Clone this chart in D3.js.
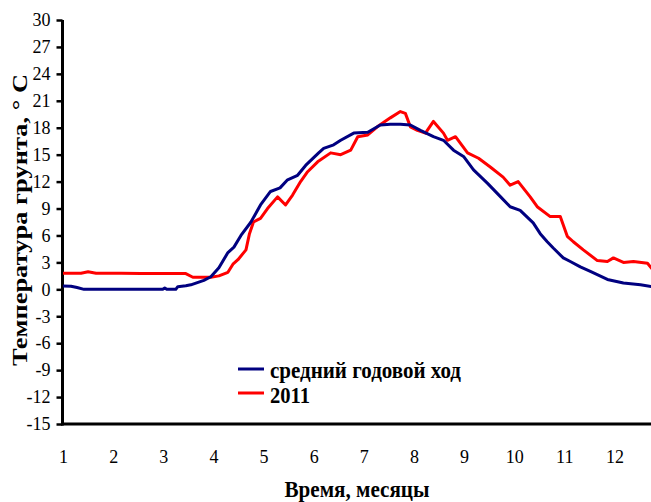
<!DOCTYPE html>
<html>
<head>
<meta charset="utf-8">
<script src="https://cdn.jsdelivr.net/npm/d3@7"></script>
<style>
  html, body { margin: 0; padding: 0; background: #fff; }
  svg { display: block; }
  text { font-family: "Liberation Serif", "Times New Roman", serif; }
</style>
</head>
<body>
<svg id="chart" width="651" height="502"></svg>
<script>
// ---- data ----
const yTicks = [-15, -12, -9, -6, -3, 0, 3, 6, 9, 12, 15, 18, 21, 24, 27, 30];
const xTicks = [1, 2, 3, 4, 5, 6, 7, 8, 9, 10, 11, 12];

const monthsAvg = [1.00, 1.16, 1.28, 1.42, 2.99, 3.03, 3.07, 3.25, 3.29, 3.45, 3.55, 3.81, 3.95, 4.11, 4.29, 4.41, 4.55, 4.75, 4.94, 5.14, 5.33, 5.48, 5.68, 5.84, 6.10, 6.20, 6.40, 6.54, 6.80, 7.08, 7.33, 7.53, 7.73, 7.93, 8.13, 8.39, 8.59, 8.79, 8.99, 9.19, 9.47, 9.73, 9.92, 10.12, 10.38, 10.52, 10.66, 10.78, 10.98, 11.12, 11.32, 11.52, 11.86, 12.18, 12.52, 12.75];
const tempAvg   = [0.37, 0.35, 0.20, 0.00, 0.00, 0.15, 0.00, 0.00, 0.30, 0.40, 0.50, 1.00, 1.40, 2.40, 4.10, 4.70, 6.00, 7.50, 9.40, 10.90, 11.30, 12.20, 12.70, 13.80, 15.20, 15.70, 16.10, 16.60, 17.40, 17.50, 18.30, 18.40, 18.40, 18.30, 17.70, 17.00, 16.60, 15.50, 14.80, 13.30, 11.80, 10.30, 9.20, 8.80, 7.40, 6.20, 5.30, 4.60, 3.50, 3.10, 2.50, 2.00, 1.10, 0.70, 0.50, 0.30];

const months2011 = [1.00, 1.36, 1.50, 1.66, 2.16, 2.55, 2.95, 3.45, 3.59, 3.95, 4.11, 4.29, 4.39, 4.49, 4.65, 4.72, 4.80, 4.94, 5.08, 5.28, 5.44, 5.58, 5.74, 5.88, 6.08, 6.34, 6.54, 6.74, 6.88, 7.08, 7.27, 7.53, 7.73, 7.83, 7.93, 8.07, 8.23, 8.39, 8.59, 8.67, 8.83, 9.07, 9.29, 9.53, 9.78, 9.92, 10.08, 10.32, 10.46, 10.72, 10.92, 11.06, 11.18, 11.38, 11.66, 11.86, 11.98, 12.18, 12.38, 12.66, 12.75];
const temp2011   = [1.80, 1.80, 1.95, 1.80, 1.80, 1.75, 1.75, 1.75, 1.35, 1.35, 1.50, 1.90, 2.80, 3.30, 4.40, 6.20, 7.50, 7.90, 9.00, 10.30, 9.40, 10.50, 12.00, 13.10, 14.20, 15.20, 15.00, 15.50, 17.00, 17.20, 18.10, 19.10, 19.80, 19.60, 18.10, 17.70, 17.40, 18.70, 17.40, 16.60, 17.00, 15.20, 14.60, 13.60, 12.50, 11.60, 12.00, 10.30, 9.20, 8.10, 8.10, 5.90, 5.30, 4.40, 3.20, 3.10, 3.50, 3.00, 3.10, 2.90, 2.30];

const seriesNames = ["средний годовой ход", "2011"];
const seriesColors = ["#000080", "#ff0000"];
const yTitle = "Температура грунта, ° C";
const xTitle = "Время, месяцы";

// ---- chart ----
const svg = d3.select("#chart");
const x = d3.scaleLinear().domain([1, 12.75]).range([63, 652]);
const y = d3.scaleLinear().domain([-15, 30]).range([424, 20]);

// y axis
const yAxis = svg.append("g").attr("transform", "translate(62.5,0)")
  .call(d3.axisLeft(y).tickValues(yTicks).tickSize(6).tickPadding(6).tickFormat(d3.format("d")));
yAxis.select(".domain").attr("stroke", "#000").attr("stroke-width", 3).attr("d", `M0,${y(30)}V${y(-15) + 1.5}`);
yAxis.selectAll(".tick line").attr("stroke", "#000").attr("stroke-width", 2.5);
yAxis.selectAll(".tick text").attr("font-size", 18).attr("fill", "#000")
  .attr("font-family", "Liberation Serif").text(d => d < 0 ? "-" + Math.abs(d) : d);

// x axis
const xAxis = svg.append("g").attr("transform", `translate(0,${y(-15)})`)
  .call(d3.axisBottom(x).tickValues(xTicks).tickSize(0).tickPadding(26).tickFormat(d3.format("d")));
xAxis.select(".domain").attr("stroke", "#000").attr("stroke-width", 3).attr("d", `M61,0H651`);
xAxis.selectAll(".tick text").attr("font-size", 18).attr("fill", "#000").attr("font-family", "Liberation Serif");

// lines
const line = d3.line().x(d => x(d[0])).y(d => y(d[1]));
const data = [
  d3.zip(monthsAvg, tempAvg),
  d3.zip(months2011, temp2011)
];
svg.append("path").datum(data[1]).attr("d", line).attr("fill", "none")
  .attr("stroke", seriesColors[1]).attr("stroke-width", 3).attr("stroke-linejoin", "round");
svg.append("path").datum(data[0]).attr("d", line).attr("fill", "none")
  .attr("stroke", seriesColors[0]).attr("stroke-width", 3).attr("stroke-linejoin", "round");

// legend
const legendY = [369, 393];
const legendW = [191, 40];
seriesNames.forEach((name, i) => {
  svg.append("line").attr("x1", 238).attr("x2", 264).attr("y1", legendY[i]).attr("y2", legendY[i])
    .attr("stroke", seriesColors[i]).attr("stroke-width", 3);
  svg.append("text").attr("x", 270).attr("y", legendY[i] + 9 + (i === 1 ? 1 : 0))
    .attr("font-size", 23).attr("font-weight", "bold")
    .attr("textLength", legendW[i]).attr("lengthAdjust", "spacingAndGlyphs")
    .text(name);
});

// titles
svg.append("text").attr("x", 357).attr("y", 497).attr("text-anchor", "middle")
  .attr("font-size", 24).attr("font-weight", "bold")
  .attr("textLength", 145).attr("lengthAdjust", "spacingAndGlyphs")
  .text(xTitle);

svg.append("text").attr("transform", "translate(27,220) rotate(-90)")
  .attr("text-anchor", "middle")
  .attr("font-size", 22).attr("font-weight", "bold")
  .attr("textLength", 292).attr("lengthAdjust", "spacingAndGlyphs")
  .text(yTitle);
</script>
</body>
</html>
